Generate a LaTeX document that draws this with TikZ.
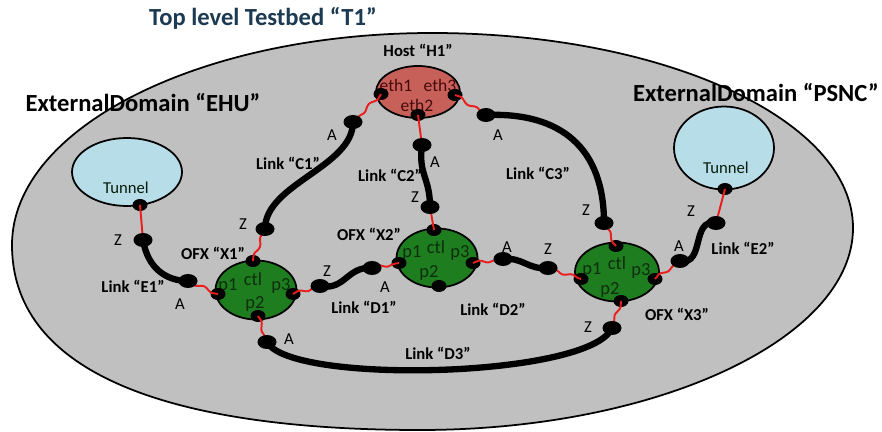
\documentclass[tikz,border=0pt]{standalone}
\usepackage{fontspec}
\setmainfont{Carlito}
\usetikzlibrary{shapes.geometric,decorations.pathmorphing}

\definecolor{domaingray}{RGB}{192,192,192}
\definecolor{titleblue}{RGB}{28,58,82}
\definecolor{hostred}{RGB}{200,96,90}
\definecolor{hosttext}{RGB}{70,10,10}
\definecolor{ofxgreen}{RGB}{30,125,30}
\definecolor{porttext}{RGB}{15,45,15}
\definecolor{tunnelblue}{RGB}{183,222,232}
\definecolor{wirered}{RGB}{235,30,30}

\tikzset{
  title/.style={font=\fontsize{14}{16}\selectfont\bfseries, inner sep=0},
  domainlbl/.style={font=\fontsize{14}{16}\selectfont\bfseries, inner sep=0},
  linklbl/.style={font=\fontsize{9.5}{11}\selectfont\bfseries, inner sep=0},
  endlbl/.style={font=\fontsize{9.5}{11}\selectfont, inner sep=0},
  portlbl/.style={font=\fontsize{10.5}{12}\selectfont, text=porttext, inner sep=0},
  ethlbl/.style={font=\fontsize{10}{12}\selectfont, text=hosttext, inner sep=0},
  hostnode/.style={ellipse, draw=black, line width=1pt, fill=hostred,
    minimum width=1.68cm, minimum height=1.04cm, inner sep=0, outer sep=0},
  ofxnode/.style={ellipse, draw=black, line width=1pt, fill=ofxgreen,
    minimum width=1.62cm, minimum height=1.18cm, inner sep=0, outer sep=0},
  tunnelnode/.style={ellipse, draw=black, line width=1pt, fill=tunnelblue,
    inner sep=0, outer sep=0},
  portdot/.style={ellipse, fill=black, minimum width=0.3cm,
    minimum height=0.24cm, inner sep=0, outer sep=0},
  enddot/.style={ellipse, fill=black, minimum width=0.38cm,
    minimum height=0.28cm, inner sep=0, outer sep=0},
  wire/.style={draw=wirered, line width=1.1pt, decorate,
    decoration={snake, amplitude=0.9pt, segment length=11pt}},
  straightwire/.style={draw=wirered, line width=1.1pt},
  link/.style={draw=black, line width=3.6pt, line cap=round},
}

\begin{document}
\begin{tikzpicture}[x=0.02cm, y=-0.02cm]
\path[use as bounding box, fill=white] (0,0) rectangle (882,432);

% testbed domain outline
\draw[fill=domaingray, line width=1pt]
  (432,33) .. controls (665,33) and (853,120) .. (853,228)
  .. controls (853,338) and (659,430) .. (420,430)
  .. controls (155,430) and (12,367) .. (12,245)
  .. controls (12,128) and (200,33) .. (432,33) -- cycle;

\node[title, text=titleblue] (ttl) at (263,18) {Top level Testbed “T1”};
\node[domainlbl] (dehu) at (143,103) {ExternalDomain “EHU”};
\node[domainlbl] (dpsnc) at (756,93) {ExternalDomain “PSNC”};

% host, switches and tunnels
\node[hostnode] (H1) at (418,92) {};
\node[ofxnode] (X1) at (256,290) {};
\node[ofxnode] (X2) at (437,258) {};
\node[ofxnode, minimum width=1.68cm] (X3) at (617,272) {};
\node[tunnelnode, minimum width=2.2cm, minimum height=1.36cm] (T1) at (127,172) {};
\node[tunnelnode, minimum width=2.0cm, minimum height=1.66cm] (T2) at (724,148) {};

\node[linklbl] (hlbl) at (418,50) {Host “H1”};
\node[ethlbl] (eth1l) at (396,85) {eth1};
\node[ethlbl] (eth3l) at (440,85) {eth3};
\node[ethlbl] (eth2l) at (417,105) {eth2};

\node[portlbl] (x1p1l) at (228,286) {p1};
\node[portlbl] (x1ctll) at (253,279) {ctl};
\node[portlbl] (x1p3l) at (281,286) {p3};
\node[portlbl] (x1p2l) at (255,304) {p2};
\node[portlbl] (x2p1l) at (412,253) {p1};
\node[portlbl] (x2ctll) at (436,247) {ctl};
\node[portlbl] (x2p3l) at (460,253) {p3};
\node[portlbl] (x2p2l) at (429,273) {p2};
\node[portlbl] (x3p1l) at (592,270) {p1};
\node[portlbl] (x3ctll) at (617,263) {ctl};
\node[portlbl] (x3p3l) at (641,271) {p3};
\node[portlbl] (x3p2l) at (610,290) {p2};

\node[endlbl, text=porttext!60!black] (t1l) at (126,188) {Tunnel};
\node[endlbl, text=porttext!60!black] (t2l) at (726,168) {Tunnel};

% port dots on the nodes
\node[portdot] (eth1) at (381,94) {};
\node[portdot] (eth3) at (455,95) {};
\node[portdot] (eth2) at (418,115) {};
\node[portdot] (x1ctl) at (253,261) {};
\node[portdot] (x1p1) at (218,294) {};
\node[portdot] (x1p3) at (293,294) {};
\node[portdot] (x1p2) at (258,316) {};
\node[portdot] (x2ctl) at (434,230) {};
\node[portdot] (x2p1) at (399,263) {};
\node[portdot] (x2p3) at (473,263) {};
\node[portdot] (x2p2) at (439,286) {};
\node[portdot] (x3ctl) at (616,246) {};
\node[portdot] (x3p1) at (581,279) {};
\node[portdot] (x3p3) at (655,279) {};
\node[portdot] (x3p2) at (621,301) {};
\node[portdot] (t1p) at (140,205) {};
\node[portdot] (t2p) at (725,189) {};

% link end points
\coordinate (c1a) at (353,122);
\coordinate (c1z) at (265,229);
\coordinate (c2a) at (422,145);
\coordinate (c2z) at (430,207);
\coordinate (c3a) at (486,115);
\coordinate (c3z) at (604,223);
\coordinate (e1z) at (143,240);
\coordinate (e1a) at (188,281);
\coordinate (e2a) at (680,261);
\coordinate (e2z) at (716,223);
\coordinate (d1z) at (320,286);
\coordinate (d1a) at (372,268);
\coordinate (d2a) at (503,259);
\coordinate (d2z) at (548,268);
\coordinate (d3a) at (267,342);
\coordinate (d3z) at (612,328);

% red attachment wires
\draw[wire] (eth1.center) -- (c1a);
\draw[straightwire] (eth2.center) -- (c2a);
\draw[wire] (eth3.center) -- (c3a);
\draw[wire] (x1ctl.center) -- (c1z);
\draw[straightwire] (x2ctl.center) -- (c2z);
\draw[wire] (x3ctl.center) -- (c3z);
\draw[straightwire] (t1p.center) -- (e1z);
\draw[wire] (x1p1.center) -- (e1a);
\draw[wire] (x1p3.center) -- (d1z);
\draw[wire] (d1a) -- (x2p1.center);
\draw[wire] (x2p3.center) -- (d2a);
\draw[wire] (d2z) -- (x3p1.center);
\draw[wire] (x3p3.center) -- (e2a);
\draw[straightwire] (e2z) -- (t2p.center);
\draw[wire] (x1p2.center) -- (d3a);
\draw[wire] (x3p2.center) -- (d3z);

% links
\draw[link] (c1a) .. controls +(0,45) and +(0,-45) .. (c1z);
\draw[link] (c2a) .. controls +(-4,30) and +(0,-30) .. (c2z);
\draw[link] (c3a) .. controls +(75,-3) and +(0,-75) .. (c3z);
\draw[link] (e1z) .. controls +(5,30) and +(-20,0) .. (e1a);
\draw[link] (e2a) .. controls +(25,5) and +(-25,-5) .. (e2z);
\draw[link] (d1z) .. controls +(25,5) and +(-25,-2) .. (d1a);
\draw[link] (d2a) .. controls +(20,-2) and +(-20,2) .. (d2z);
\draw[link] (d3a) .. controls (290,385) and (590,378) .. (d3z);

\foreach \p in {c1a,c1z,c2a,c2z,c3a,c3z,e1z,e1a,e2a,e2z,d1z,d1a,d2a,d2z,d3a,d3z}
  \node[enddot] (dot-\p) at (\p) {};

% link labels
\node[linklbl] (lc1) at (288,163) {Link “C1”};
\node[linklbl] (lc2) at (390,175) {Link “C2”};
\node[linklbl] (lc3) at (538,173) {Link “C3”};
\node[linklbl] (le1) at (133,286) {Link “E1”};
\node[linklbl] (le2) at (743,248) {Link “E2”};
\node[linklbl] (ld1) at (364,307) {Link “D1”};
\node[linklbl] (ld2) at (493,309) {Link “D2”};
\node[linklbl] (ld3) at (438,353) {Link “D3”};
\node[linklbl] (lx1) at (213,253) {OFX “X1”};
\node[linklbl] (lx2) at (369,234) {OFX “X2”};
\node[linklbl] (lx3) at (677,314) {OFX “X3”};

% link end letters
\node[endlbl] (ac1) at (332,135) {A};
\node[endlbl] (zc1) at (243,224) {Z};
\node[endlbl] (ac2) at (435,162) {A};
\node[endlbl] (zc2) at (415,197) {Z};
\node[endlbl] (ac3) at (498,135) {A};
\node[endlbl] (zc3) at (586,210) {Z};
\node[endlbl] (ze1) at (118,240) {Z};
\node[endlbl] (ae1) at (180,304) {A};
\node[endlbl] (ze2) at (691,211) {Z};
\node[endlbl] (ae2) at (679,246) {A};
\node[endlbl] (zd1) at (327,271) {Z};
\node[endlbl] (ad1) at (385,287) {A};
\node[endlbl] (ad2) at (507,247) {A};
\node[endlbl] (zd2) at (548,249) {Z};
\node[endlbl] (ad3) at (289,339) {A};
\node[endlbl] (zd3) at (588,327) {Z};
\end{tikzpicture}
\end{document}
